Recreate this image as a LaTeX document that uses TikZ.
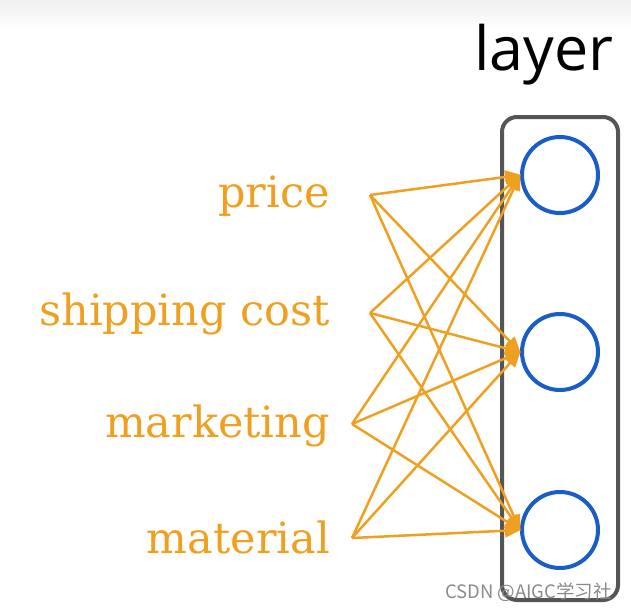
\documentclass[tikz,border=0pt]{standalone}
\usepackage{tikz}
\usepackage{xcolor}
\usepackage{fontspec}
\usetikzlibrary{arrows.meta}
\newfontfamily\layerfont{Open Sans}
\newfontfamily\featfont{DejaVu Serif}
\newfontfamily\cjk{Noto Sans CJK SC}
\definecolor{vorange}{HTML}{F0A020}
\definecolor{vblue}{HTML}{1A5CC8}
\definecolor{vdarkgray}{HTML}{555555}
\definecolor{vmark}{HTML}{8A8A8A}

\begin{document}
\begin{tikzpicture}[x=1pt, y=-1pt,
		feature/.style={anchor=base east, text=vorange, font=\featfont\fontsize{43}{43}\selectfont, inner sep=0pt},
		unit/.style={circle, draw=vblue, line width=4pt, minimum size=76pt, inner sep=0pt},
		wire/.style={draw=vorange, line width=2.5pt, -{Triangle[length=16pt,width=13pt]}, shorten >=-1pt}]
		\useasboundingbox (0,0) rectangle (631,611);
		\shade[top color=black!6, bottom color=white] (0,0) rectangle (631,30);
		\node[anchor=base, font=\layerfont\fontsize{61}{61}\selectfont, inner sep=0pt] (title) at (544,70) {layer};
		\draw[color=vdarkgray, line width=4pt, rounded corners=15pt] (502,117) rectangle (618,600);
		\node[unit] (h1) at (560,175) {};
		\node[unit] (h2) at (560,352) {};
		\node[unit] (h3) at (560,530) {};
		\node[feature] (price) at (330,207) {price};
		\node[feature] (ship) at (330,325) {shipping cost};
		\node[feature] (mkt) at (330,437) {marketing};
		\node[feature] (mat) at (330,553) {material};
		\coordinate (s1) at (370,195);
		\coordinate (s2) at (370,313);
		\coordinate (s3) at (352,424);
		\coordinate (s4) at (352,538);
		\foreach \s in {s1,s2,s3,s4}
			\foreach \h in {h1,h2,h3}
				\draw[wire] (\s) -- (\h.west);
		\node[anchor=base east, text=vmark, font=\cjk\fontsize{18.5}{18.5}\selectfont, inner sep=0pt] (mark) at (612,598) {CSDN @AIGC学习社};
	\end{tikzpicture}
\end{document}
